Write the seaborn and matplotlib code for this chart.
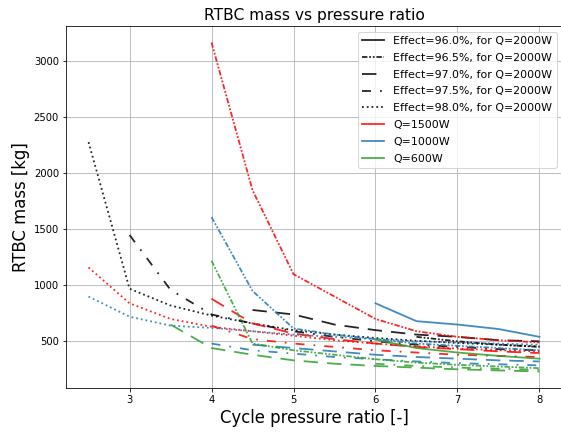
import numpy as np
import pandas as pd
import matplotlib
matplotlib.use('Agg')
import matplotlib.pyplot as plt
from matplotlib.lines import Line2D
import seaborn as sns

N = np.nan

# pressure ratio grid
ratio = [2.5, 3.0, 3.5, 4.0, 4.5, 5.0, 5.5, 6.0, 6.5, 7.0, 7.5, 8.0]
effects = ['96.0%', '96.5%', '97.0%', '97.5%', '98.0%']
powers = ['2000', '1500', '1000', '600']

# RTBC mass [kg], Q=2000W
q2000_960 = [N, N, N, N, N, N, N, N, N, N, N, N]
q2000_965 = [N, N, N, N, N, N, N, N, 540, 500, 470, 450]
q2000_970 = [N, N, N, N, 780, 740, 650, 600, 560, 540, 510, 500]
q2000_975 = [N, 1450, 960, 740, 660, 590, 540, 500, 470, 450, 430, 420]
q2000_980 = [2280, 970, 820, 730, 660, 600, 560, 530, 505, 485, 470, 455]

# Q=1500W
q1500_960 = [N, N, N, N, N, N, N, N, N, N, N, N]
q1500_965 = [N, N, N, 3170, 1850, 1100, 900, 700, 590, 540, 510, 490]
q1500_970 = [N, N, N, 880, 660, 570, 520, 480, 450, 430, 410, 395]
q1500_975 = [N, N, N, 640, 520, 480, 450, 420, 400, 380, 370, 360]
q1500_980 = [1160, 840, 700, 630, 590, 550, 510, 480, 455, 435, 420, 410]

# Q=1000W
q1000_960 = [N, N, N, N, N, N, N, 840, 680, 650, 610, 540]
q1000_965 = [N, N, N, 1610, 950, 615, 560, 520, 480, 460, 440, 420]
q1000_970 = [N, N, N, N, 470, 440, 410, 380, 360, 345, 330, 320]
q1000_975 = [N, N, N, 480, 420, 390, 360, 340, 320, 305, 295, 285]
q1000_980 = [900, 720, 640, 620, 590, 560, 540, 520, 500, 490, 480, 470]

# Q=600W
q600_960 = [N, N, N, N, N, N, N, 515, 440, 400, 370, 345]
q600_965 = [N, N, N, 1220, 480, 420, 380, 340, 310, 290, 275, 260]
q600_970 = [N, N, 650, 440, 380, 330, 300, 280, 265, 250, 240, 230]
q600_975 = [N, N, N, N, N, N, N, 300, 280, 265, 255, 245]
q600_980 = [N, N, N, N, N, N, N, N, N, N, N, N]

series = {
    '2000': [q2000_960, q2000_965, q2000_970, q2000_975, q2000_980],
    '1500': [q1500_960, q1500_965, q1500_970, q1500_975, q1500_980],
    '1000': [q1000_960, q1000_965, q1000_970, q1000_975, q1000_980],
    '600': [q600_960, q600_965, q600_970, q600_975, q600_980],
}

rows = []
for q in powers:
    for eff, vals in zip(effects, series[q]):
        for x, m in zip(ratio, vals):
            rows.append((x, m, q, eff))
df = pd.DataFrame(rows, columns=['ratio', 'mass', 'Q', 'effect']).dropna()

palette = {'2000': 'black', '1500': 'red', '1000': 'tab:blue', '600': 'tab:green'}
dashes = {
    '96.0%': '',
    '96.5%': (3, 1, 1, 1, 1, 1),
    '97.0%': (8, 5),
    '97.5%': (5, 5, 1, 5),
    '98.0%': (1, 1.65),
}
lw = 1.8

fig = plt.figure(figsize=(561 / 72, 432 / 72), dpi=72)
ax = fig.add_axes([66 / 561, 44 / 432, 496 / 561, 362 / 432])

sns.lineplot(data=df, x='ratio', y='mass', hue='Q', style='effect',
             hue_order=powers, style_order=effects, palette=palette,
             dashes=dashes, errorbar=None, legend=False, alpha=0.85,
             linewidth=lw, ax=ax)

ax.grid(True)
ax.set_title('RTBC mass vs pressure ratio', fontsize=15.5)
ax.set_xlabel('Cycle pressure ratio [-]', fontsize=16.5)
ax.set_ylabel('RTBC mass [kg]', fontsize=16.5)

handles = []
for eff in effects:
    d = dashes[eff]
    ls = '-' if d == '' else (0, d)
    handles.append(Line2D([], [], color='black', alpha=0.85, linestyle=ls,
                          linewidth=lw, label='Effect=%s, for Q=2000W' % eff))
for q in ['1500', '1000', '600']:
    handles.append(Line2D([], [], color=palette[q], alpha=0.85,
                          linewidth=lw, label='Q=%sW' % q))
ax.legend(handles=handles, loc='upper right', fontsize=11, labelspacing=0.62)

fig.savefig('out.png', dpi=72)
